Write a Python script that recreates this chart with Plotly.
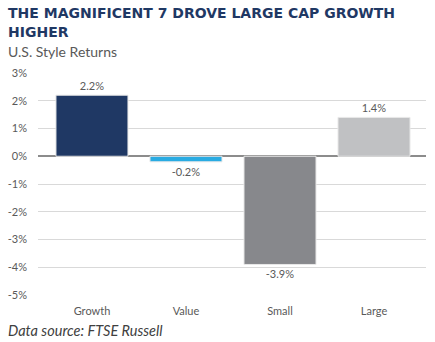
import plotly.graph_objects as go

categories = ["Growth", "Value", "Small", "Large"]
returns = [2.2, -0.2, -3.9, 1.4]
bar_colors = ["#1F3864", "#29ABE2", "#87888C", "#C0C1C3"]
tick_vals = [3, 2, 1, 0, -1, -2, -3, -4, -5]
tick_text = [f"{v}%" for v in tick_vals]

fig = go.Figure()
fig.add_trace(go.Bar(
    x=list(range(len(categories))), y=returns,
    width=0.766,
    marker=dict(color=bar_colors, line=dict(color="#E8E8E8", width=1)),
    text=[f"{v:.1f}%" for v in returns],
    textposition="outside",
    textfont=dict(family="Lato", size=11, color="#595959"),
    cliponaxis=False,
))

fig.update_layout(
    width=435, height=342,
    margin=dict(l=38, r=9, t=73, b=47),
    paper_bgcolor="white", plot_bgcolor="white",
    showlegend=False,
    font=dict(family="Lato", color="#595959"),
    xaxis=dict(range=[-0.574, 3.553], tickvals=list(range(len(categories))),
               ticktext=categories,
               showgrid=False, showline=False, ticks="", zeroline=False,
               ticklabelstandoff=8,
               tickfont=dict(family="Lato", size=11, color="#595959")),
    yaxis=dict(range=[-5, 3], tickvals=tick_vals, ticktext=tick_text,
               showgrid=True, gridcolor="#D9D9D9", gridwidth=1,
               zeroline=True, zerolinecolor="#8C8C8C", zerolinewidth=1.5,
               ticklabelstandoff=10,
               tickfont=dict(family="Lato", size=11, color="#595959")),
)

fig.add_annotation(
    text="<b>THE MAGNIFICENT 7 DROVE LARGE CAP GROWTH</b>",
    xref="paper", yref="paper", x=0, y=1, xanchor="left", yanchor="middle",
    xshift=-32, yshift=60, align="left", showarrow=False,
    font=dict(family="DejaVu Sans", size=14, color="#1F3864"),
)
fig.add_annotation(
    text="<b>HIGHER</b>",
    xref="paper", yref="paper", x=0, y=1, xanchor="left", yanchor="middle",
    xshift=-32, yshift=41, align="left", showarrow=False,
    font=dict(family="DejaVu Sans", size=14, color="#1F3864"),
)
fig.add_annotation(
    text="U.S. Style Returns",
    xref="paper", yref="paper", x=0, y=1, xanchor="left", yanchor="middle",
    xshift=-32, yshift=22, align="left", showarrow=False,
    font=dict(family="Lato", size=14, color="#595959"),
)
fig.add_annotation(
    text="<i>Data source: FTSE Russell</i>",
    xref="paper", yref="paper", x=0, y=0, xanchor="left", yanchor="top",
    xshift=-32, yshift=-25, align="left", showarrow=False,
    font=dict(family="Lato", size=14.5, color="#404040"),
)

fig.write_html("out.html")
